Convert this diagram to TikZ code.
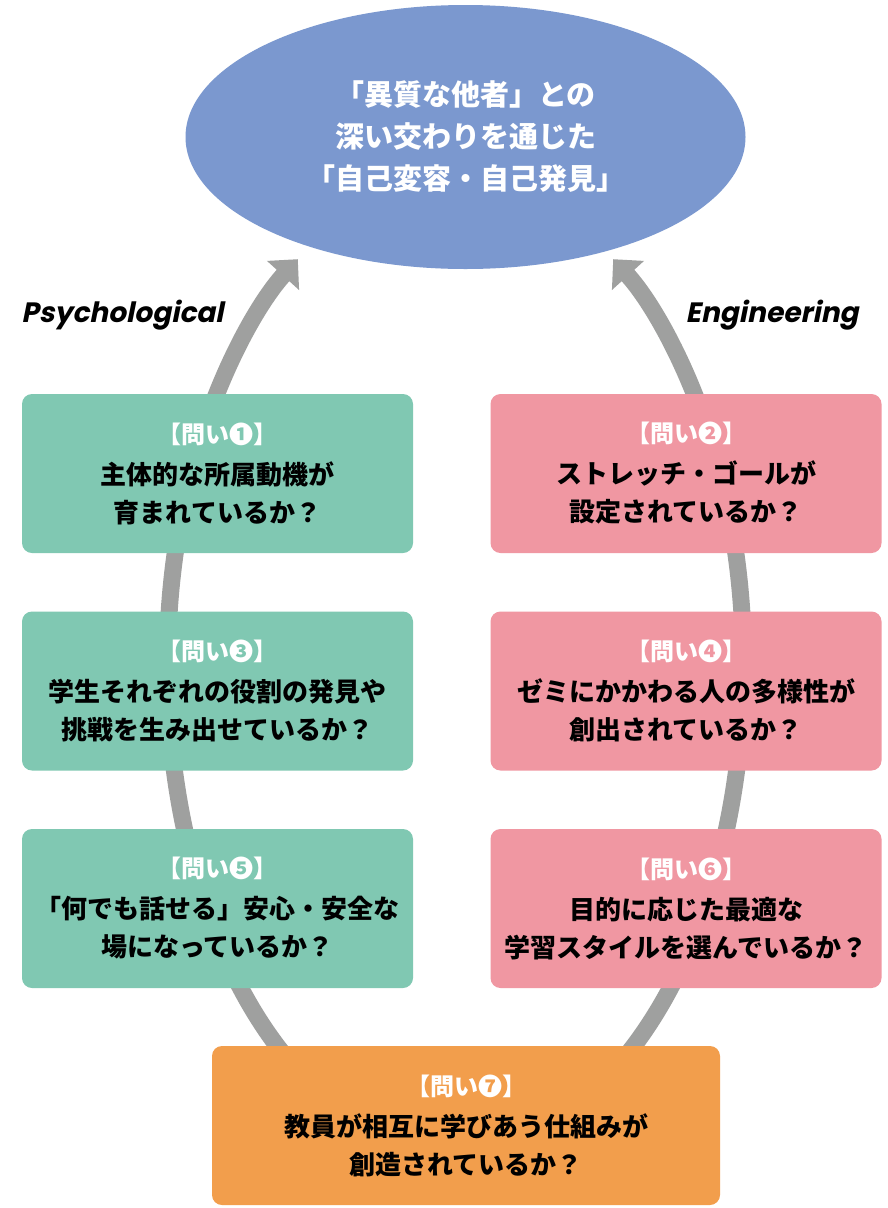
\documentclass[tikz,border=0pt]{standalone}
\usepackage{fontspec}
\newfontfamily\jp{Noto Sans CJK JP}
\newfontfamily\lab{Poppins}[FakeSlant=0.2]
\usetikzlibrary{arrows.meta,shapes.geometric}
\definecolor{ellblue}{HTML}{7B98CF}
\definecolor{qgreen}{HTML}{80C8B2}
\definecolor{qpink}{HTML}{F097A2}
\definecolor{qorange}{HTML}{F29E4C}
\definecolor{arcgray}{HTML}{9FA09F}
\newcommand{\qtitle}[1]{{\color{white}\fontsize{24}{26}\selectfont #1}\\[3pt]}
\begin{document}
\begin{tikzpicture}[x=1pt,y=-1pt,
  qbox/.style={rounded corners=10pt, minimum width=391pt, minimum height=159pt,
    inner sep=0pt, align=center, text=black,
    font=\jp\bfseries\fontsize{26}{38}\selectfont},
  greenbox/.style={qbox, fill=qgreen},
  pinkbox/.style={qbox, fill=qpink},
  orangebox/.style={qbox, fill=qorange, minimum width=508pt},
  goal/.style={ellipse, fill=ellblue, minimum width=560pt, minimum height=264pt,
    inner sep=0pt, align=center, text=white,
    font=\jp\bfseries\fontsize{29}{42}\selectfont},
  sidelabel/.style={anchor=base, inner sep=0pt, font=\lab\bfseries\fontsize{28}{30}\selectfont},
  flow/.style={draw=arcgray, line width=17pt, -{Triangle[width=42pt,length=22pt]}}
]
\useasboundingbox (0,0) rectangle (888,1208);
\fill[white] (0,0) rectangle (888,1208);

% the loop arcs (behind everything)
\draw[flow] (455.5,665) ++(120:288 and 485)
  arc[start angle=120, end angle=236.8, x radius=288, y radius=485];
\draw[flow] (455.5,665) ++(60:288 and 485)
  arc[start angle=60, end angle=-56.8, x radius=288, y radius=485];

\node[goal] (goal) at (465.5,137)
  {「異質な他者」との\\深い交わりを通じた\\「自己変容・自己発見」};

\node[sidelabel] (psy) at (122.5,322) {Psychological};
\node[sidelabel] (eng) at (772,322) {Engineering};

\node[greenbox] (q1) at (217.5,473.5)
  {\qtitle{【問い❶】}主体的な所属動機が\\育まれているか？};
\node[pinkbox] (q2) at (686,473.5)
  {\qtitle{【問い❷】}ストレッチ・ゴールが\\設定されているか？};
\node[greenbox] (q3) at (217.5,691)
  {\qtitle{【問い❸】}学生それぞれの役割の発見や\\挑戦を生み出せているか？};
\node[pinkbox] (q4) at (686,691)
  {\qtitle{【問い❹】}ゼミにかかわる人の多様性が\\創出されているか？};
\node[greenbox] (q5) at (217.5,908.5)
  {\qtitle{【問い❺】}「何でも話せる」安心・安全な\\場になっているか？};
\node[pinkbox] (q6) at (686,908.5)
  {\qtitle{【問い❻】}目的に応じた最適な\\学習スタイルを選んでいるか？};
\node[orangebox] (q7) at (466,1125.5)
  {\qtitle{【問い❼】}教員が相互に学びあう仕組みが\\創造されているか？};
\end{tikzpicture}
\end{document}
